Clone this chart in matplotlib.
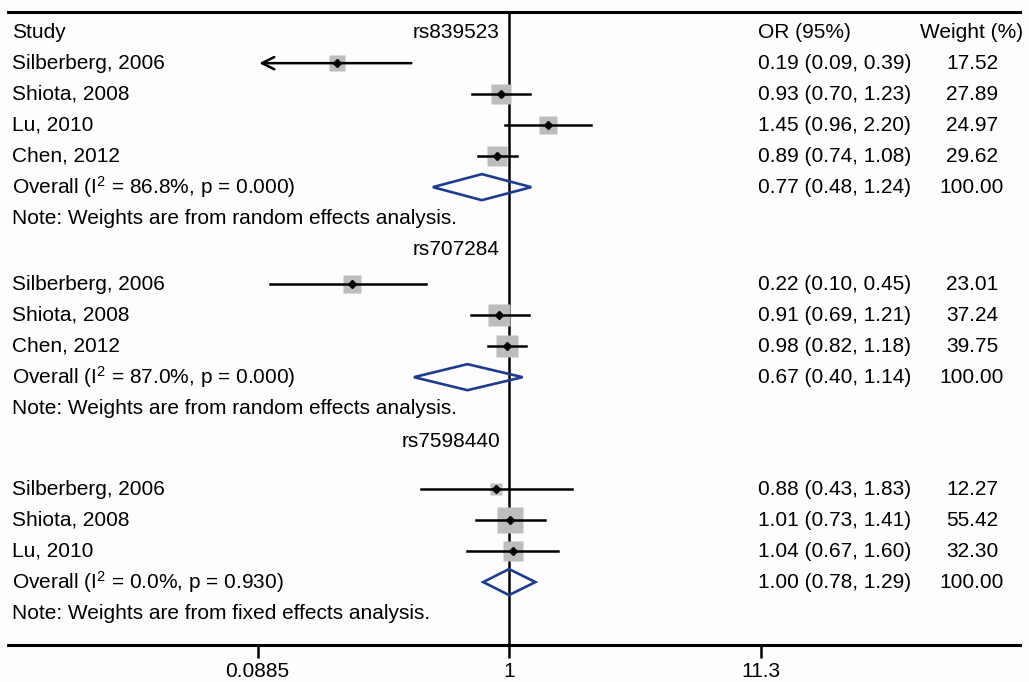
import numpy as np
import matplotlib.pyplot as plt
import matplotlib.transforms as mtrans
from matplotlib.patches import Polygon

plt.rcParams['font.family'] = ['Liberation Sans', 'DejaVu Sans']
plt.rcParams['mathtext.fontset'] = 'custom'
plt.rcParams['mathtext.rm'] = 'Liberation Sans'
plt.rcParams['mathtext.it'] = 'Liberation Sans'

# data
snps = ['rs839523', 'rs707284', 'rs7598440']
studies = [['Silberberg, 2006', 'Shiota, 2008', 'Lu, 2010', 'Chen, 2012'],
           ['Silberberg, 2006', 'Shiota, 2008', 'Chen, 2012'],
           ['Silberberg, 2006', 'Shiota, 2008', 'Lu, 2010']]
or_est = [[0.19, 0.93, 1.45, 0.89], [0.22, 0.91, 0.98], [0.88, 1.01, 1.04]]
or_lo = [[0.09, 0.70, 0.96, 0.74], [0.10, 0.69, 0.82], [0.43, 0.73, 0.67]]
or_hi = [[0.39, 1.23, 2.20, 1.08], [0.45, 1.21, 1.18], [1.83, 1.41, 1.60]]
weights = [[17.52, 27.89, 24.97, 29.62], [23.01, 37.24, 39.75], [12.27, 55.42, 32.30]]
arrow_left = [[True, False, False, False], [False, False, False], [False, False, False]]
pooled = [0.77, 0.67, 1.00]
pooled_lo = [0.48, 0.40, 0.78]
pooled_hi = [1.24, 1.14, 1.29]
i2 = ['86.8', '87.0', '0.0']
pvals = ['0.000', '0.000', '0.930']
effects = ['random', 'random', 'fixed']
xticks = [0.0885, 1, 11.3]
xtick_labels = ['0.0885', '1', '11.3']

# layout (row units, 0 = header row)
snp_row = [None, 7.0, 13.2]
first_row = [1.0, 8.13, 14.74]
row_top, row_bottom = -0.65, 19.77

W, H = 1029, 682
fig = plt.figure(figsize=(W / 100, H / 100), dpi=100)
bg = '#fdfdfe'
fig.patch.set_facecolor(bg)
ax = fig.add_axes([8 / W, (H - 645) / H, 1012 / W, (645 - 12) / H])
ax.set_facecolor(bg)

# log axis: 0.0885 at px 257.5, 1 at px 509
ppd = (509 - 257.5) / -np.log10(0.0885)
x0 = 10 ** ((8 - 509) / ppd)
x1 = 10 ** ((1020 - 509) / ppd)
ax.set_xscale('log')
ax.set_xlim(x0, x1)
ax.set_ylim(row_bottom, row_top)

fs = 15
tx = mtrans.blended_transform_factory(ax.transAxes, ax.transData)
def xa(px):
    return (px - 8) / 1012

ax.text(xa(12), 0, 'Study', fontsize=fs, va='center', ha='left', transform=tx)
ax.text(xa(500), 0, snps[0], fontsize=fs, va='center', ha='right', transform=tx)
ax.text(xa(758), 0, 'OR (95%)', fontsize=fs, va='center', ha='left', transform=tx)
ax.text(xa(972), 0, 'Weight (%)', fontsize=fs, va='center', ha='center', transform=tx)

ax.axvline(1, color='black', lw=1.8, zorder=1)

for g in range(3):
    if snp_row[g] is not None:
        ax.text(xa(500), snp_row[g], snps[g], fontsize=fs, va='center', ha='right', transform=tx)
    r = first_row[g]
    for i, name in enumerate(studies[g]):
        y = r + i
        ax.text(xa(12), y, name, fontsize=fs, va='center', ha='left', transform=tx)
        ax.text(xa(758), y, '%.2f (%.2f, %.2f)' % (or_est[g][i], or_lo[g][i], or_hi[g][i]),
                fontsize=fs, va='center', ha='left', transform=tx)
        ax.text(xa(972), y, '%.2f' % weights[g][i], fontsize=fs, va='center', ha='center', transform=tx)
        ax.plot(or_est[g][i], y, marker='s', ms=2.6 * np.sqrt(weights[g][i]),
                color='#bdbdbd', mec='none', zorder=2)
        if arrow_left[g][i]:
            ax.annotate('', xy=(or_lo[g][i], y), xytext=(or_hi[g][i], y),
                        arrowprops=dict(arrowstyle='->', lw=1.8, color='black', mutation_scale=22,
                                        shrinkA=0, shrinkB=0), zorder=3)
        else:
            ax.plot([or_lo[g][i], or_hi[g][i]], [y, y], color='black', lw=1.8, zorder=3)
        ax.plot(or_est[g][i], y, marker='D', ms=4.5, color='black', zorder=4)
    y = r + len(studies[g])
    ax.text(xa(12), y, 'Overall (I$^2$ = %s%%, p = %s)' % (i2[g], pvals[g]),
            fontsize=fs, va='center', ha='left', transform=tx)
    ax.text(xa(758), y, '%.2f (%.2f, %.2f)' % (pooled[g], pooled_lo[g], pooled_hi[g]),
            fontsize=fs, va='center', ha='left', transform=tx)
    ax.text(xa(972), y, '100.00', fontsize=fs, va='center', ha='center', transform=tx)
    dh = 0.42
    ax.add_patch(Polygon([[pooled_lo[g], y], [pooled[g], y - dh], [pooled_hi[g], y], [pooled[g], y + dh]],
                         closed=True, fill=False, edgecolor='#1f3c8c', lw=1.9, zorder=5))
    ax.text(xa(12), y + 1, 'Note: Weights are from %s effects analysis.' % effects[g],
            fontsize=fs, va='center', ha='left', transform=tx)

ax.set_yticks([])
ax.set_xticks(xticks)
ax.set_xticklabels(xtick_labels, fontsize=fs)
ax.minorticks_off()
ax.tick_params(axis='x', direction='out', length=9, width=1.8, pad=3)
for s in ['left', 'right']:
    ax.spines[s].set_visible(False)
for s in ['top', 'bottom']:
    ax.spines[s].set_linewidth(2.2)

fig.savefig('out.png', dpi=100, facecolor=bg)
